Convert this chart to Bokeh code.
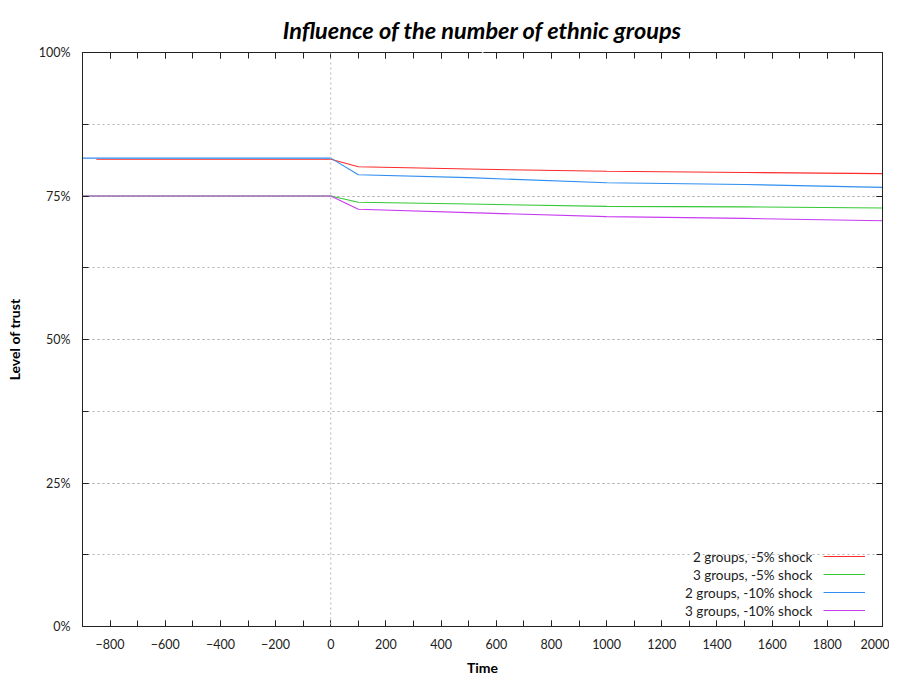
from bokeh.plotting import figure
from bokeh.models import (Range1d, LinearAxis, SingleIntervalTicker, PrintfTickFormatter,
                          Span, Legend, LegendItem, Label, Title)
from bokeh.embed import file_html
from bokeh.resources import INLINE

# ---- data ----
time_2g_5 = [-850, 0, 100, 500, 1000, 1500, 2000]
trust_2g_5 = [81.4, 81.4, 80.1, 79.7, 79.3, 79.1, 78.9]

time_3g_5 = [-900, 0, 100, 500, 1000, 1500, 2000]
trust_3g_5 = [75.0, 75.0, 73.9, 73.6, 73.2, 73.1, 72.9]

time_2g_10 = [-900, 0, 100, 500, 1000, 1500, 2000]
trust_2g_10 = [81.6, 81.6, 78.7, 78.2, 77.3, 77.0, 76.5]

time_3g_10 = [-900, 0, 100, 500, 1000, 1500, 2000]
trust_3g_10 = [75.0, 75.0, 72.7, 72.1, 71.4, 71.1, 70.7]

series_labels = ["2 groups, -5% shock", "3 groups, -5% shock",
                 "2 groups, -10% shock", "3 groups, -10% shock"]
series_colors = ["#ff2a2a", "#36c836", "#2f8ff0", "#c83cf0"]
title_text = "Influence of the number of ethnic groups"

FONT = "Lato"

p = figure(frame_width=800, frame_height=574,
           min_border_left=82, min_border_right=7, min_border_top=52, min_border_bottom=46,
           x_range=Range1d(-900, 2000), y_range=Range1d(0, 100),
           output_backend="svg", toolbar_location=None)
p.outline_line_color = None

xtick = SingleIntervalTicker(interval=200, num_minor_ticks=2)
ytick = SingleIntervalTicker(interval=25, num_minor_ticks=2)

for ax in (p.xaxis[0], p.yaxis[0]):
    ax.major_tick_in = 6
    ax.major_tick_out = 0
    ax.minor_tick_in = 6
    ax.minor_tick_out = 0
    ax.axis_line_color = "#222222"
    ax.major_tick_line_color = "#222222"
    ax.minor_tick_line_color = "#222222"
    ax.major_label_text_font = FONT
    ax.major_label_text_font_size = "12.5px"
    ax.major_label_text_color = "#222222"
    ax.axis_label_text_font = FONT
    ax.axis_label_text_font_style = "bold"
    ax.axis_label_text_font_size = "14px"
    ax.axis_label_text_color = "#000000"

p.xaxis[0].ticker = xtick
p.yaxis[0].ticker = ytick
p.yaxis[0].formatter = PrintfTickFormatter(format="%d%%")
p.xaxis[0].axis_label = "Time"
p.yaxis[0].axis_label = "Level of trust"
p.xaxis[0].major_label_standoff = 12
p.xaxis[0].axis_label_standoff = 7
p.yaxis[0].major_label_standoff = 12
p.yaxis[0].axis_label_standoff = 13

# mirrored axes (top, right) with ticks only
top = LinearAxis(ticker=SingleIntervalTicker(interval=200, num_minor_ticks=2))
right = LinearAxis(ticker=SingleIntervalTicker(interval=25, num_minor_ticks=2))
for ax in (top, right):
    ax.major_tick_in = 6
    ax.major_tick_out = 0
    ax.minor_tick_in = 6
    ax.minor_tick_out = 0
    ax.axis_line_color = "#222222"
    ax.major_tick_line_color = "#222222"
    ax.minor_tick_line_color = "#222222"
    ax.major_label_text_font_size = "0px"
    ax.major_label_text_color = None
    ax.major_label_standoff = 0
p.add_layout(top, "above")
p.add_layout(right, "right")

# white spacer title between the frame and the real title
p.add_layout(Title(text=".", text_font_size="8px", text_color="#ffffff", standoff=0,
                   align="center"), "above")
main_title = Title(text=title_text, text_font=FONT, text_font_style="bold italic",
                   text_font_size="23.5px", text_color="#000000", align="center", standoff=4)
p.add_layout(main_title, "above")

# grid
p.xgrid.grid_line_color = None
p.ygrid.ticker = ytick
p.ygrid.grid_line_color = "#b4b4b4"
p.ygrid.grid_line_dash = "2 3"
p.ygrid.minor_grid_line_color = "#b4b4b4"
p.ygrid.minor_grid_line_dash = "2 3"
p.add_layout(Span(location=0, dimension="height", line_color="#b4b4b4",
                  line_dash="2 3", line_width=1))

# lines
r1 = p.line(time_2g_5, trust_2g_5, line_color=series_colors[0], line_width=1.1)
r2 = p.line(time_3g_5, trust_3g_5, line_color=series_colors[1], line_width=1.1)
r3 = p.line(time_2g_10, trust_2g_10, line_color=series_colors[2], line_width=1.1)
r4 = p.line(time_3g_10, trust_3g_10, line_color=series_colors[3], line_width=1.1)
renderers = [r1, r2, r3, r4]

# legend: sample lines on the right, texts right-aligned to their left
legend = Legend(items=[LegendItem(label=" ", renderers=[r]) for r in renderers],
                location=(741, 7), padding=0, margin=0, spacing=0,
                glyph_width=42, glyph_height=18, label_width=0, label_height=18,
                label_standoff=0, label_text_font_size="1px",
                border_line_color=None, background_fill_alpha=0)
p.add_layout(legend, "center")

legend_text_y = [12.07, 8.94, 5.80, 2.67]
for lab, ly in zip(series_labels, legend_text_y):
    p.add_layout(Label(x=1746, y=ly, text=lab, text_align="right", text_baseline="middle",
                       text_font=FONT, text_font_size="13.5px", text_color="#222222"))

open("out.html", "w").write(file_html(p, INLINE))
